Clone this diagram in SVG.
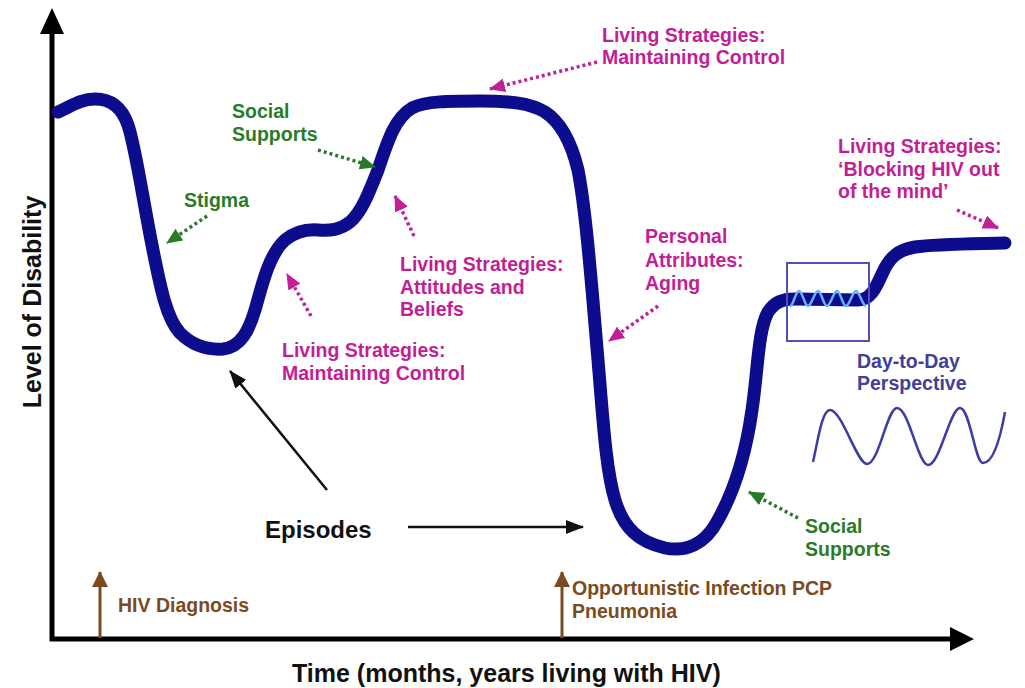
<svg xmlns="http://www.w3.org/2000/svg" width="1025" height="688" viewBox="0 0 1025 688">
  <style>
    text { font-family: "Liberation Sans", Arial, sans-serif; font-weight: bold; }
    .lbl { font-size: 19.5px; }
    .mag { fill: #c21e96; }
    .grn { fill: #2a7a2a; }
    .brn { fill: #7a4b1e; }
    .blu { fill: #40409a; }
    .blk { fill: #111111; }
    .dotm { stroke: #c21e96; stroke-width: 3.5; stroke-dasharray: 3 3; fill: none; }
    .dotg { stroke: #2a7a2a; stroke-width: 3.5; stroke-dasharray: 3 3; fill: none; }
    .axis { stroke: #000000; stroke-width: 5; fill: none; }
    .curve { stroke: #0c0c8c; stroke-width: 13; fill: none; stroke-linecap: round; stroke-linejoin: round; }
    .pin { stroke: #7a4b1e; stroke-width: 3; fill: none; }
    .epi { stroke: #111111; stroke-width: 2.5; fill: none; }
  </style>
  <defs>
    <marker id="headMag" viewBox="0 0 16 14" refX="15" refY="7" markerWidth="16" markerHeight="14" orient="auto" markerUnits="userSpaceOnUse">
      <path d="M0,0 L16,7 L0,14 z" fill="#c21e96"/>
    </marker>
    <marker id="headGrn" viewBox="0 0 16 14" refX="15" refY="7" markerWidth="16" markerHeight="14" orient="auto" markerUnits="userSpaceOnUse">
      <path d="M0,0 L16,7 L0,14 z" fill="#2a7a2a"/>
    </marker>
    <marker id="headBlk" viewBox="0 0 18 14" refX="17" refY="7" markerWidth="18" markerHeight="14" orient="auto" markerUnits="userSpaceOnUse">
      <path d="M0,0 L18,7 L0,14 z" fill="#111111"/>
    </marker>
    <marker id="headBrn" viewBox="0 0 16 16" refX="15" refY="8" markerWidth="16" markerHeight="16" orient="auto" markerUnits="userSpaceOnUse">
      <path d="M0,0 L16,8 L0,16 z" fill="#7a4b1e"/>
    </marker>
  </defs>

  <rect width="1025" height="688" fill="#ffffff"/>

  <!-- axes -->
  <g id="axes">
    <line class="axis" x1="52" y1="641" x2="52" y2="30"/>
    <path d="M52,8 L64,34 L40,34 z" fill="#000000"/>
    <line class="axis" x1="50" y1="639" x2="952" y2="639"/>
    <path d="M974,639 L950,627 L950,651 z" fill="#000000"/>
    <text x="41" y="302" font-size="25" text-anchor="middle" transform="rotate(-90 41 302)" class="blk">Level of Disability</text>
    <text x="292" y="682" font-size="25" class="blk">Time (months, years living with HIV)</text>
  </g>

  <!-- disability trajectory -->
  <g id="trajectory">
    <path class="curve" d="M58,112 C70,107 80,99 95,99 C112,99 122,108 128,125 C136,150 143,200 152,245 C160,285 166,318 180,333 C193,346 208,350 223,349 C241,347 249,330 255,310 C261,290 268,255 285,240 C295,232 305,229 318,230 C330,231 340,230 350,222 C362,212 370,190 378,170 C388,140 395,118 412,108 C425,101 450,101 480,101 C510,101 530,103 545,112 C562,123 572,145 578,170 C586,210 592,290 598,360 C603,420 606,470 615,500 C624,530 640,542 665,548 C685,552 705,545 718,520 C732,495 745,460 752,410 C758,370 758,330 768,312 C775,302 782,299 795,299 L858,300 C870,300 875,290 883,272 C890,257 898,250 915,247 C935,244 960,244 1005,243"/>
  </g>

  <!-- day-to-day zoom window -->
  <g id="day-window">
    <rect x="787" y="263" width="82" height="78" fill="none" stroke="#5050b8" stroke-width="2"/>
    <path d="M790,306 C793.5,306 795.5,291 799,291 C802.5,291 804.5,306 808,306 C811.5,306 814.5,291 818,291 C821.5,291 823.5,306 827,306 C830.5,306 833.5,291 837,291 C840.5,291 842.5,306 846,306 C849.5,306 852.5,291 856,291 C859.5,291 862.5,306 866,306" fill="none" stroke="#66b2ff" stroke-width="2.5"/>
  </g>

  <g id="day-to-day">
    <text class="lbl blu" x="857" y="368">Day-to-Day</text>
    <text class="lbl blu" x="857" y="390">Perspective</text>
    <path d="M813,462 C818,440 822,410 830,410 C842,410 857,464 867,464 C879,464 887,408 897,408 C909,408 918,465 928,465 C940,465 950,408 960,408 C970,408 975,463 983,463 C993,463 1000,440 1005,412" fill="none" stroke="#3c3ca8" stroke-width="2.5"/>
  </g>

  <!-- labels -->
  <g id="maintaining-control-top">
    <text class="lbl mag" x="602" y="42">Living Strategies:</text>
    <text class="lbl mag" x="602" y="64">Maintaining Control</text>
  </g>
  <g id="social-supports-top">
    <text class="lbl grn" x="232" y="118">Social</text>
    <text class="lbl grn" x="232" y="141">Supports</text>
  </g>
  <g id="stigma">
    <text class="lbl grn" x="184" y="207">Stigma</text>
  </g>
  <g id="attitudes-beliefs">
    <text class="lbl mag" x="400" y="271">Living Strategies:</text>
    <text class="lbl mag" x="400" y="294">Attitudes and</text>
    <text class="lbl mag" x="400" y="316">Beliefs</text>
  </g>
  <g id="maintaining-control-low">
    <text class="lbl mag" x="282" y="357">Living Strategies:</text>
    <text class="lbl mag" x="282" y="380">Maintaining Control</text>
  </g>
  <g id="personal-attributes">
    <text class="lbl mag" x="645" y="243">Personal</text>
    <text class="lbl mag" x="645" y="267">Attributes:</text>
    <text class="lbl mag" x="645" y="290">Aging</text>
  </g>
  <g id="blocking-hiv">
    <text class="lbl mag" x="838" y="153">Living Strategies:</text>
    <text class="lbl mag" x="838" y="176">‘Blocking HIV out</text>
    <text class="lbl mag" x="838" y="198">of the mind’</text>
  </g>
  <g id="social-supports-low">
    <text class="lbl grn" x="805" y="533">Social</text>
    <text class="lbl grn" x="805" y="556">Supports</text>
  </g>
  <g id="episodes">
    <text x="265" y="538" font-size="24" class="blk">Episodes</text>
  </g>
  <g id="hiv-diagnosis">
    <text class="lbl brn" x="118" y="612">HIV Diagnosis</text>
  </g>
  <g id="opportunistic-infection">
    <text class="lbl brn" x="572" y="595">Opportunistic Infection PCP</text>
    <text class="lbl brn" x="572" y="618">Pneumonia</text>
  </g>

  <!-- connectors -->
  <g id="connectors">
    <line class="dotm" x1="597" y1="62" x2="490" y2="89" marker-end="url(#headMag)"/>
    <line class="dotg" x1="318" y1="150" x2="375" y2="167" marker-end="url(#headGrn)"/>
    <line class="dotg" x1="207" y1="216" x2="167" y2="243" marker-end="url(#headGrn)"/>
    <line class="dotm" x1="414" y1="236" x2="395" y2="196" marker-end="url(#headMag)"/>
    <line class="dotm" x1="311" y1="316" x2="287" y2="274" marker-end="url(#headMag)"/>
    <line class="dotm" x1="658" y1="306" x2="609" y2="341" marker-end="url(#headMag)"/>
    <line class="dotm" x1="957" y1="210" x2="998" y2="228" marker-end="url(#headMag)"/>
    <line class="dotg" x1="798" y1="518" x2="749" y2="492" marker-end="url(#headGrn)"/>
    <line class="epi" x1="327" y1="490" x2="230" y2="371" marker-end="url(#headBlk)"/>
    <line class="epi" x1="408" y1="527" x2="583" y2="527" marker-end="url(#headBlk)"/>
    <line class="pin" x1="100" y1="638" x2="100" y2="572" marker-end="url(#headBrn)"/>
    <line class="pin" x1="562" y1="638" x2="562" y2="572" marker-end="url(#headBrn)"/>
  </g>
</svg>
